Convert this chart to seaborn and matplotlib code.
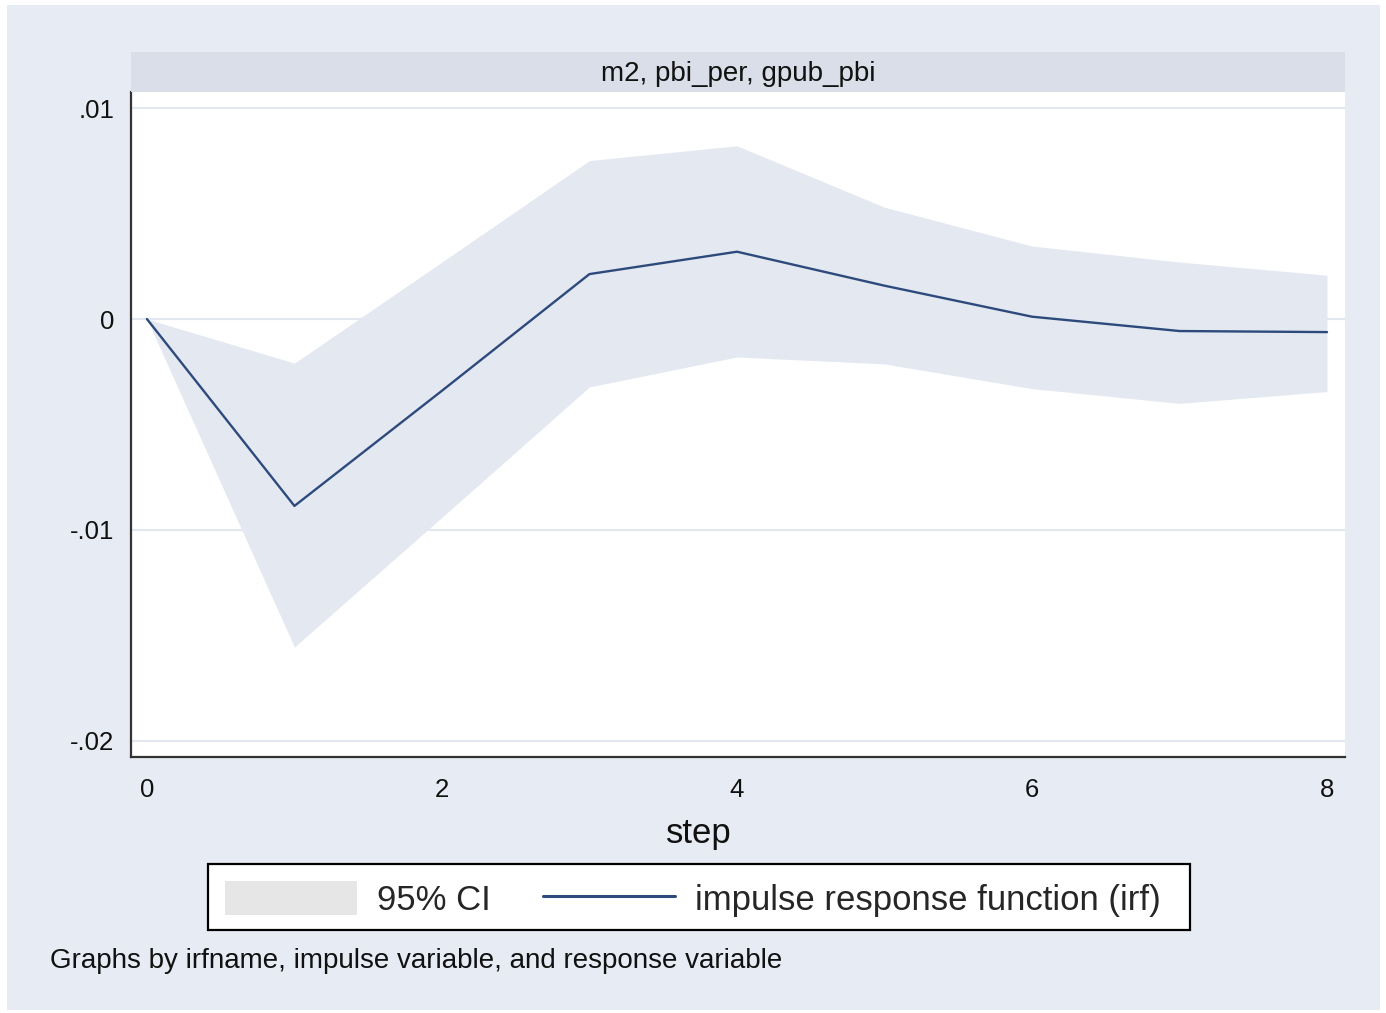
import matplotlib
matplotlib.use('Agg')
import pandas as pd
import matplotlib.pyplot as plt
import seaborn as sns
from matplotlib.patches import Rectangle, Patch
from matplotlib.lines import Line2D

# Data
step = [0, 1, 2, 3, 4, 5, 6, 7, 8]
irf = [0.0, -0.00886, -0.0034, 0.00213, 0.00319, 0.00158, 0.00011, -0.00057, -0.00062]
ci_upper = [0.0, -0.00209, 0.0027, 0.00751, 0.00821, 0.0053, 0.00346, 0.0027, 0.00208]
ci_lower = [0.0, -0.01555, -0.0094, -0.00322, -0.0018, -0.00213, -0.0033, -0.004, -0.00344]

ytick_vals = [0.01, 0.0, -0.01, -0.02]
ytick_labels = ['.01', '0', '-.01', '-.02']
xtick_vals = [0, 2, 4, 6, 8]

panel_title = 'm2, pbi_per, gpub_pbi'
note = 'Graphs by irfname, impulse variable, and response variable'
legend_labels = ['95% CI', 'impulse response function (irf)']

df = pd.DataFrame({'step': step, 'irf': irf, 'lower': ci_lower, 'upper': ci_upper})

# Style
sns.set_style('white')
plt.rcParams['font.family'] = ['Liberation Sans', 'DejaVu Sans']

bg_color = '#E7EBF3'
strip_color = '#D9DEE8'
ci_color = '#E4E9F1'
line_color = '#2E4A7D'
grid_color = '#E3E7EF'
axis_color = '#333333'

W, H = 1386, 1013
fig = plt.figure(figsize=(W / 100, H / 100), dpi=100)
fig.patch.set_facecolor('white')
fig.patches.append(Rectangle((7 / W, 1 - 1010 / H), (1380 - 7) / W, (1010 - 5) / H,
                             transform=fig.transFigure, facecolor=bg_color,
                             edgecolor='none', zorder=-10))

# Main plot
ax = fig.add_axes([131 / W, 1 - 757 / H, (1345 - 131) / W, (757 - 92) / H])
ax.set_facecolor('white')
ax.fill_between(df['step'], df['lower'], df['upper'], color=ci_color, linewidth=0, zorder=2)
sns.lineplot(data=df, x='step', y='irf', ax=ax, color=line_color, linewidth=1.7, zorder=3)

ax.set_xlim(-0.108, 8.122)
ax.set_ylim(-0.02076, 0.01076)
ax.set_yticks(ytick_vals)
ax.set_yticklabels(ytick_labels)
ax.set_xticks(xtick_vals)
ax.set_xticklabels([str(v) for v in xtick_vals])
ax.yaxis.grid(True, color=grid_color, linewidth=1.5, zorder=1)
ax.set_axisbelow(True)

for side in ['top', 'right']:
    ax.spines[side].set_visible(False)
for side in ['left', 'bottom']:
    ax.spines[side].set_color(axis_color)
    ax.spines[side].set_linewidth(1.6)

ax.tick_params(axis='both', direction='out', length=7, width=1.4, color=axis_color,
               labelsize=18.5, labelcolor='#111111')
ax.tick_params(axis='y', pad=5)
ax.tick_params(axis='x', pad=8)
ax.set_xlabel('step', fontsize=25, color='#111111', va='center')
ax.xaxis.set_label_coords((699 - 131) / (1345 - 131), (757 - 834) / (757 - 92))
ax.set_ylabel('')

# Panel strip
strip = fig.add_axes([131 / W, 1 - 92 / H, (1345 - 131) / W, 40 / H])
strip.set_facecolor(strip_color)
strip.set_xticks([])
strip.set_yticks([])
for s in strip.spines.values():
    s.set_visible(False)
strip.text(0.5, 0.45, panel_title, ha='center', va='center', fontsize=20,
           color='#111111', transform=strip.transAxes)

# Legend box
fig.patches.append(Rectangle((208 / W, 1 - 930 / H), (1190 - 208) / W, (930 - 864) / H,
                             transform=fig.transFigure, facecolor='white',
                             edgecolor='black', linewidth=1.6, zorder=5))
handles = [Patch(facecolor='#E6E6E6', edgecolor='none'),
           Line2D([0], [0], color=line_color, linewidth=2.2)]
leg = fig.legend(handles, legend_labels, loc='center', bbox_to_anchor=(693 / W, 1 - 899 / H),
                 ncol=2, fontsize=25, frameon=False,
                 handlelength=3.8, handleheight=1.1, handletextpad=0.57,
                 columnspacing=1.5, borderpad=0.4, borderaxespad=0)
leg.set_zorder(6)

# Note
fig.text(50 / W, 1 - 961 / H, note, ha='left', va='center', fontsize=20, color='#111111')

fig.savefig('out.png', dpi=100, facecolor=fig.get_facecolor())
